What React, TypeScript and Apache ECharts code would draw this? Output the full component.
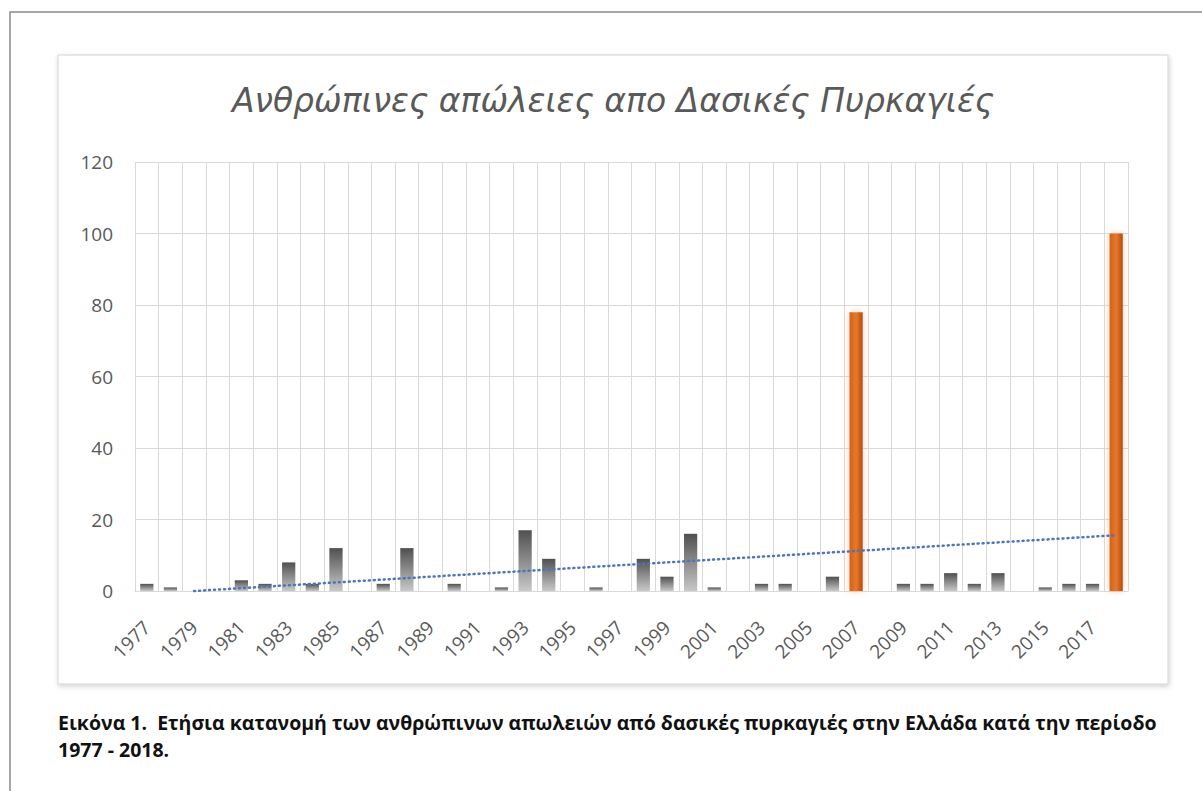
import React, { useEffect, useRef } from "react";
import * as echarts from "echarts";

const YEARS = [
  "1977","1978","1979","1980","1981","1982","1983","1984","1985","1986",
  "1987","1988","1989","1990","1991","1992","1993","1994","1995","1996",
  "1997","1998","1999","2000","2001","2002","2003","2004","2005","2006",
  "2007","2008","2009","2010","2011","2012","2013","2014","2015","2016",
  "2017","2018",
];
const DEATHS = [
  2, 1, 0, 0, 3, 2, 8, 2, 12, 0,
  2, 12, 0, 2, 0, 1, 17, 9, 0, 1,
  0, 9, 4, 16, 1, 0, 2, 2, 0, 4,
  78, 0, 2, 2, 5, 2, 5, 0, 1, 2,
  2, 100,
];
const HIGHLIGHT_YEARS = ["2007", "2018"];
const TREND_YEARS = ["1979", "2018"];
const TREND_VALUES = [0, 15.6];
const Y_TICKS = [0, 20, 40, 60, 80, 100, 120];

const TITLE = "Ανθρώπινες απώλειες απο Δασικές Πυρκαγιές";
const CAPTION_1 =
  "Εικόνα 1.  Ετήσια κατανομή των ανθρώπινων απωλειών από δασικές πυρκαγιές στην Ελλάδα κατά την περίοδο";
const CAPTION_2 = "1977 - 2018.";

export default function App() {
  const ref = useRef<HTMLDivElement>(null);
  useEffect(() => {
    if (!ref.current) return;
    const chart = echarts.init(ref.current, null, { renderer: "svg" });
    const grayFill = new echarts.graphic.LinearGradient(0, 0, 0, 1, [
      { offset: 0, color: "#505050" },
      { offset: 1, color: "#c8c8c8" },
    ]);
    const orangeFill = new echarts.graphic.LinearGradient(0, 0, 1, 0, [
      { offset: 0, color: "#D2621A" },
      { offset: 0.5, color: "#E8782C" },
      { offset: 1, color: "#B24C0D" },
    ]);
    const barData = DEATHS.map((v, i) => {
      const hi = HIGHLIGHT_YEARS.includes(YEARS[i]);
      return {
        value: v,
        itemStyle: hi
          ? {
              color: orangeFill,
              shadowColor: "rgba(246,180,130,0.7)",
              shadowBlur: 6,
            }
          : { color: grayFill },
      };
    });
    chart.setOption({
      animation: false,
      backgroundColor: "#ffffff",
      textStyle: { fontFamily: "Open Sans" },
      grid: { left: 135, right: 74, top: 162, bottom: 200, containLabel: false },
      xAxis: {
        type: "category",
        data: YEARS,
        boundaryGap: true,
        axisLine: { show: true, lineStyle: { color: "#d9d9d9", width: 1 } },
        axisTick: { show: false },
        axisLabel: {
          interval: 1,
          rotate: 45,
          margin: 33,
          fontSize: 19,
          color: "#595959",
          fontFamily: "Open Sans",
        },
        splitLine: {
          show: true,
          interval: 0,
          lineStyle: { color: "#d9d9d9", width: 1 },
        },
      },
      yAxis: {
        type: "value",
        min: Y_TICKS[0],
        max: Y_TICKS[Y_TICKS.length - 1],
        interval: Y_TICKS[1] - Y_TICKS[0],
        axisLine: { show: false },
        axisTick: { show: false },
        axisLabel: {
          margin: 22,
          fontSize: 19,
          color: "#595959",
          fontFamily: "Open Sans",
        },
        splitLine: { lineStyle: { color: "#d9d9d9", width: 1 } },
      },
      series: [
        {
          type: "bar",
          data: barData,
          barWidth: "56%",
          markLine: {
            silent: true,
            symbol: ["none", "none"],
            label: { show: false },
            lineStyle: {
              color: "#4f74b8",
              type: [1, 4],
              width: 2.5,
              cap: "round",
            },
            data: [
              [
                { coord: [TREND_YEARS[0], TREND_VALUES[0]] },
                { coord: [TREND_YEARS[1], TREND_VALUES[1]] },
              ],
            ],
          },
        },
      ],
      graphic: [
        {
          type: "rect",
          z: -20,
          silent: true,
          shape: { x: 10, y: 12, width: 1300, height: 900 },
          style: { fill: "#ffffff", stroke: "#8a8a8a", lineWidth: 1.5 },
        },
        {
          type: "rect",
          z: -10,
          silent: true,
          shape: { x: 58, y: 55, width: 1110, height: 629 },
          style: {
            fill: "#ffffff",
            stroke: "#d4d4d4",
            lineWidth: 1,
            shadowBlur: 5,
            shadowOffsetX: 1,
            shadowOffsetY: 2,
            shadowColor: "rgba(0,0,0,0.18)",
          },
        },
        {
          type: "text",
          silent: true,
          x: 613,
          y: 100,
          style: {
            text: TITLE,
            fill: "#595959",
            font: "italic 33px 'DejaVu Sans'",
            align: "center",
            verticalAlign: "middle",
          },
        },
        {
          type: "text",
          silent: true,
          x: 58,
          y: 722,
          style: {
            text: CAPTION_1,
            fill: "#111111",
            font: "bold 19.5px 'Open Sans'",
            align: "left",
            verticalAlign: "middle",
          },
        },
        {
          type: "text",
          silent: true,
          x: 58,
          y: 749,
          style: {
            text: CAPTION_2,
            fill: "#111111",
            font: "bold 19.5px 'Open Sans'",
            align: "left",
            verticalAlign: "middle",
          },
        },
      ],
    });
    return () => chart.dispose();
  }, []);
  return (
    <div
      ref={ref}
      style={{ position: "absolute", left: 0, top: 0, width: 1202, height: 791 }}
    />
  );
}
